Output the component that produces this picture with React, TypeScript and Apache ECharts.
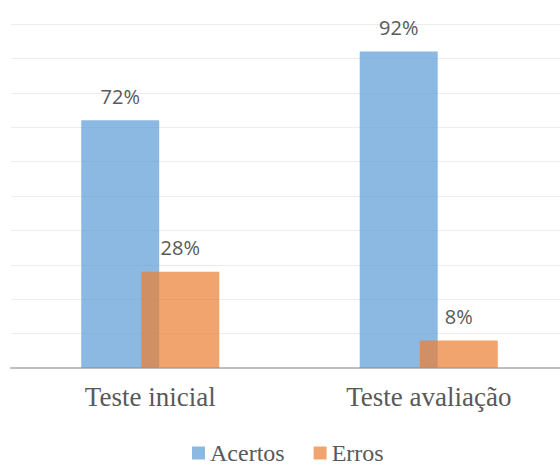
import React, { useEffect, useRef } from "react";
import * as echarts from "echarts";

const categories = ["Teste inicial", "Teste avaliação"];
const acertos = [72, 92];
const erros = [28, 8];
const seriesNames = ["Acertos", "Erros"];

export default function App() {
  const ref = useRef<HTMLDivElement>(null);
  useEffect(() => {
    const chart = echarts.init(ref.current!, null, { renderer: "svg" });
    const labelStyle = {
      show: true,
      position: "top" as const,
      distance: 14,
      formatter: "{c}%",
      color: "#595959",
      fontSize: 20,
      fontFamily: "Open Sans, sans-serif",
    };
    chart.setOption({
      animation: false,
      backgroundColor: "#ffffff",
      grid: { left: 11, top: 24, width: 557, height: 344, containLabel: false },
      xAxis: {
        type: "category",
        data: categories,
        axisLine: { lineStyle: { color: "#BFBFBF", width: 2 } },
        axisTick: { show: false },
        axisLabel: {
          color: "#595959",
          fontSize: 27,
          fontFamily: "Liberation Serif, serif",
          margin: 15,
        },
      },
      yAxis: {
        type: "value",
        min: 0,
        max: 100,
        interval: 10,
        axisLabel: { show: false },
        axisLine: { show: false },
        axisTick: { show: false },
        splitLine: { lineStyle: { color: "#EDEDED", width: 1 } },
      },
      legend: {
        top: 441,
        left: 192,
        padding: 0,
        itemWidth: 13,
        itemHeight: 13,
        itemGap: 29,
        icon: "rect",
        textStyle: {
          color: "#595959",
          fontSize: 24,
          lineHeight: 24,
          fontFamily: "Liberation Serif, serif",
        },
        data: seriesNames,
      },
      series: [
        {
          name: seriesNames[0],
          type: "bar",
          data: acertos,
          barWidth: 78,
          barGap: "-23%",
          itemStyle: { color: "rgba(91,155,213,0.7)" },
          label: labelStyle,
        },
        {
          name: seriesNames[1],
          type: "bar",
          data: erros,
          barWidth: 78,
          itemStyle: { color: "rgba(237,125,49,0.7)" },
          label: labelStyle,
        },
      ],
    });
    return () => chart.dispose();
  }, []);
  return (
    <div style={{ width: 560, height: 467, position: "absolute", left: 0, top: 0, overflow: "hidden" }}>
      <div ref={ref} style={{ width: 580, height: 467 }} />
    </div>
  );
}
